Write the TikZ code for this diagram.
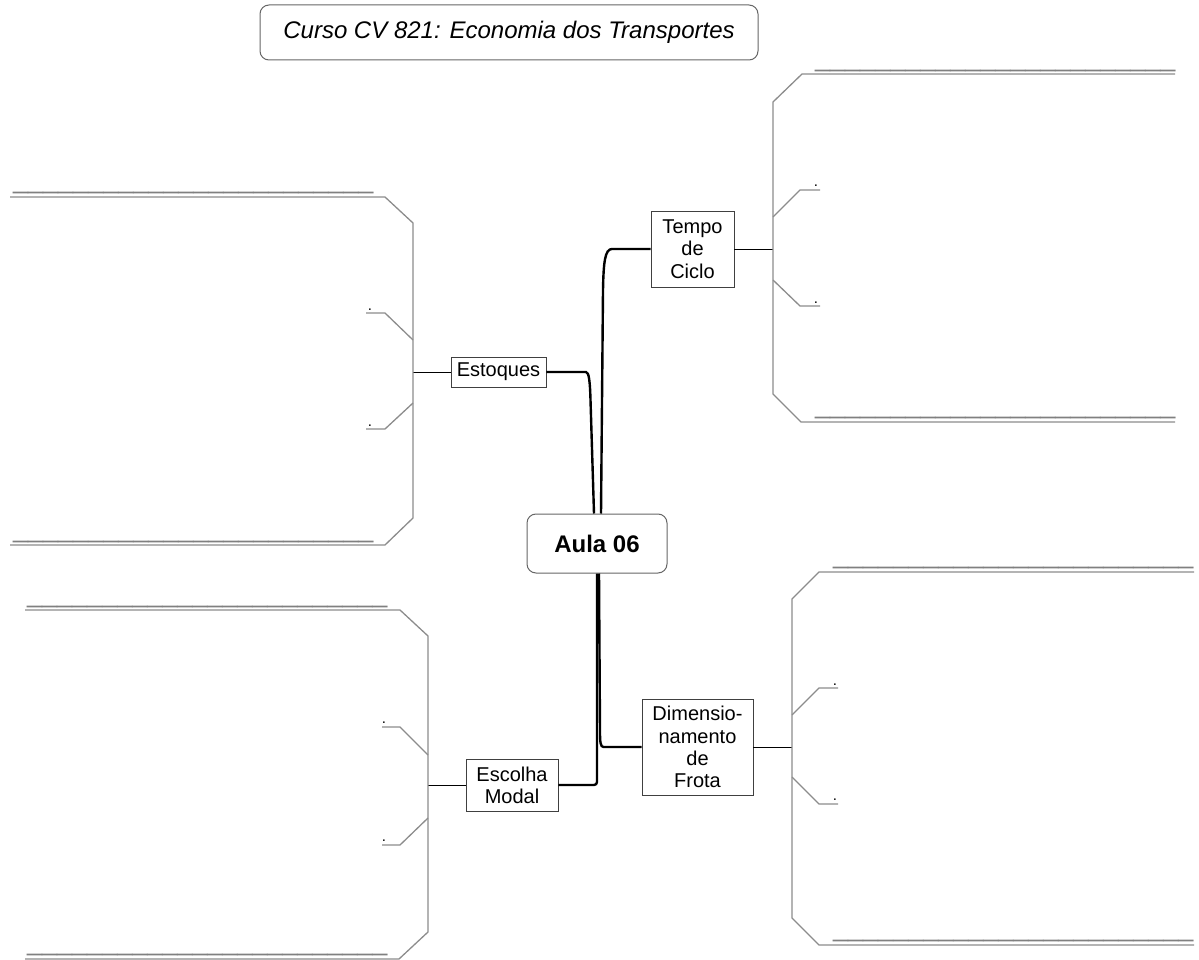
\documentclass[tikz,border=0pt]{standalone}
\usepackage{fontspec}
\setmainfont{Liberation Sans}
\begin{document}
\begin{tikzpicture}[x=1pt,y=-1pt,
  topicbox/.style={draw=black!75, line width=0.9pt, fill=white, inner sep=0pt,
    align=center, font=\fontsize{20}{22.3}\selectfont},
  roundbox/.style={draw=black!60, line width=1pt, rounded corners=9pt, fill=white, inner sep=0pt},
  trunk/.style={line width=2.4pt, black},
  twig/.style={line width=1pt, black},
  bracket/.style={line width=1.3pt, black!45, line join=miter},
  blank/.style={inner sep=0pt, anchor=base west, text=black!50,
    font=\fontsize{27}{27}\selectfont},
  dotlabel/.style={inner sep=0pt, anchor=base, font=\fontsize{15}{15}\selectfont}
]
\useasboundingbox (0,0) rectangle (1199,960);

% title and centre
\node[roundbox, minimum width=498pt, minimum height=55pt,
  font=\fontsize{24}{24}\selectfont\itshape] (title) at (509,32.5)
  {Curso CV 821: Economia dos Transportes};
\node[roundbox, minimum width=140pt, minimum height=59pt,
  font=\fontsize{24}{24}\selectfont\bfseries] (aula) at (597,543.5) {Aula 06};

% topics
\node[topicbox, minimum width=83pt, minimum height=76pt] (tempo) at (692.5,249) {Tempo\\de\\Ciclo};
\node[topicbox, minimum width=95pt, minimum height=30pt] (estoques) at (498.5,372) {Estoques};
\node[topicbox, minimum width=92pt, minimum height=52pt] (escolha) at (512,785) {Escolha\\Modal};
\node[topicbox, minimum width=111pt, minimum height=96pt] (dim) at (697.5,747) {Dimensio-\\namento\\de\\Frota};

% bends of the trunk connectors
\coordinate (tA) at (612,249);
\coordinate (tB) at (603,290);
\coordinate (eA) at (586,372);
\coordinate (eB) at (590.5,400);
\coordinate (mA) at (597,785);
\coordinate (dA) at (603.5,747);
\coordinate (dB) at (600,732);

\draw[trunk] (tempo.west) -- (tA) .. controls (605,249) and (603.5,262) .. (tB) -- ([xshift=4pt]aula.north);
\draw[trunk] (estoques.east) -- (eA) .. controls (589,372) and (590,382) .. (eB) -- ([xshift=-3pt]aula.north);
\draw[trunk, rounded corners=3pt] (escolha.east) -- (mA) -- (mA |- aula.south);
\draw[trunk] (dim.west) -- (dA) .. controls (600.5,747) and (600,742) .. (dB) -- ([xshift=2pt]aula.south);

% bracket spines
\coordinate (sT) at (773,249);
\coordinate (sE) at (413,372);
\coordinate (sM) at (428,785);
\coordinate (sD) at (792,747);

\draw[twig] (tempo.east) -- (sT);
\draw[twig] (estoques.west) -- (sE);
\draw[twig] (escolha.west) -- (sM);
\draw[twig] (dim.east) -- (sD);

% Tempo de Ciclo bracket
\draw[bracket] (1175,74) -- (802,74) -- (773,102) -- (773,394) -- (801,422) -- (1175,422);
\draw[bracket] (773,217) -- (800,190) -- (820,190);
\draw[bracket] (773,280) -- (800,306) -- (820,306);
\node[dotlabel] (t1) at (816,187) {.};
\node[dotlabel] (t2) at (816,303) {.};
\node[blank] (tu1) at (815,66.4) {\_\_\_\_\_\_\_\_\_\_\_\_\_\_\_\_\_\_\_\_\_\_\_\_};
\node[blank] (tu2) at (815,413.4) {\_\_\_\_\_\_\_\_\_\_\_\_\_\_\_\_\_\_\_\_\_\_\_\_};

% Estoques bracket
\draw[bracket] (10,197) -- (385,197) -- (413,223) -- (413,518) -- (385,545) -- (10,545);
\draw[bracket] (413,340) -- (385,313) -- (366,313);
\draw[bracket] (413,403) -- (385,429) -- (366,429);
\node[dotlabel] (e1) at (370,310) {.};
\node[dotlabel] (e2) at (370,426) {.};
\node[blank] (eu1) at (13,188.4) {\_\_\_\_\_\_\_\_\_\_\_\_\_\_\_\_\_\_\_\_\_\_\_\_};
\node[blank] (eu2) at (13,537.4) {\_\_\_\_\_\_\_\_\_\_\_\_\_\_\_\_\_\_\_\_\_\_\_\_};

% Escolha Modal bracket
\draw[bracket] (25,610) -- (400,610) -- (428,636) -- (428,932) -- (399,959) -- (25,959);
\draw[bracket] (428,755) -- (400,727) -- (382,727);
\draw[bracket] (428,818) -- (400,845) -- (382,845);
\node[dotlabel] (m1) at (384,723) {.};
\node[dotlabel] (m2) at (384,841) {.};
\node[blank] (mu1) at (27,602.4) {\_\_\_\_\_\_\_\_\_\_\_\_\_\_\_\_\_\_\_\_\_\_\_\_};
\node[blank] (mu2) at (27,950.4) {\_\_\_\_\_\_\_\_\_\_\_\_\_\_\_\_\_\_\_\_\_\_\_\_};

% Dimensionamento de Frota bracket
\draw[bracket] (1194,572) -- (819,572) -- (792,599) -- (792,918) -- (819,945) -- (1194,945);
\draw[bracket] (792,715) -- (819,688) -- (838,688);
\draw[bracket] (792,777) -- (819,804) -- (838,804);
\node[dotlabel] (d1) at (835,685) {.};
\node[dotlabel] (d2) at (835,800) {.};
\node[blank] (du1) at (833,563.4) {\_\_\_\_\_\_\_\_\_\_\_\_\_\_\_\_\_\_\_\_\_\_\_\_};
\node[blank] (du2) at (833,936.4) {\_\_\_\_\_\_\_\_\_\_\_\_\_\_\_\_\_\_\_\_\_\_\_\_};
\end{tikzpicture}
\end{document}
